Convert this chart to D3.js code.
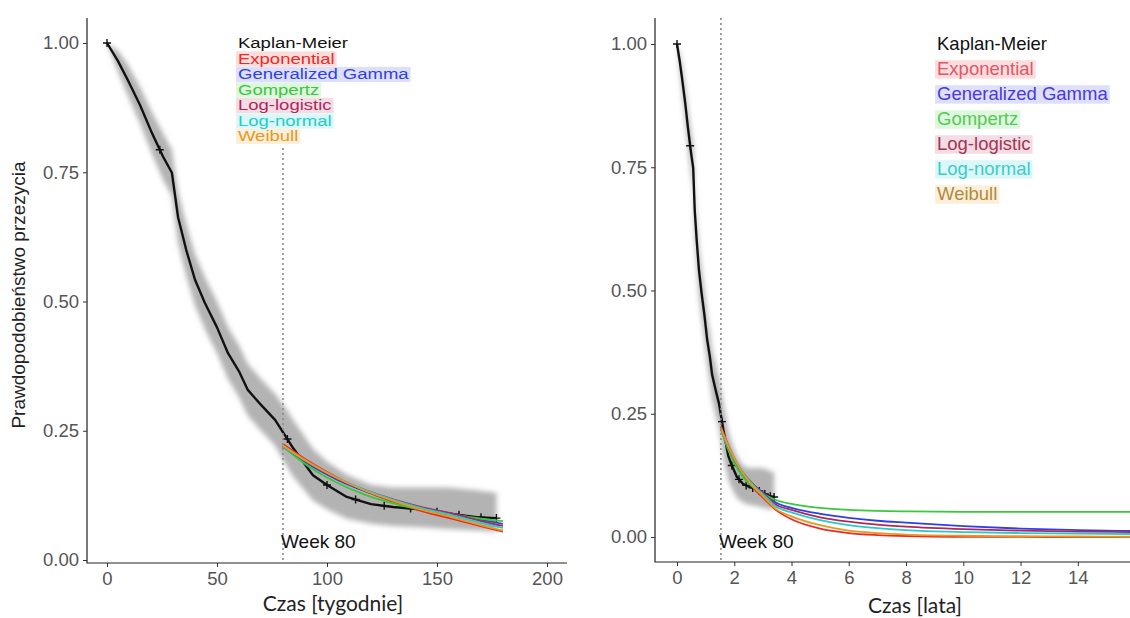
<!DOCTYPE html>
<html>
<head>
<meta charset="utf-8">
<script src="https://cdn.jsdelivr.net/npm/d3@7"></script>
<style>
  html, body { margin: 0; padding: 0; background: #fff; }
  svg { display: block; }
  .tick text { font-family: "Liberation Sans", Arial, sans-serif; }
</style>
</head>
<body>
<svg id="chart" width="1130" height="618"></svg>
<script>
// Kaplan-Meier estimate (time in weeks) with its confidence band
const kmWeeks = [0, 5, 9.5, 15, 20, 25.5, 29.5, 32.3, 36, 40, 44.5, 50, 55, 60, 64, 70, 76.4, 82.3, 84.5, 93.6, 100, 109, 120, 130, 145, 155, 168, 177];
const kmSurv  = [1.0, 0.965, 0.928, 0.88, 0.83, 0.78, 0.749, 0.663, 0.60, 0.542, 0.497, 0.45, 0.40, 0.365, 0.329, 0.30, 0.271, 0.232, 0.217, 0.164, 0.145, 0.122, 0.108, 0.1025, 0.097, 0.09, 0.083, 0.081];
const kmUpper = [1.0, 0.985, 0.958, 0.915, 0.87, 0.825, 0.794, 0.713, 0.65, 0.592, 0.547, 0.50, 0.45, 0.415, 0.379, 0.35, 0.321, 0.287, 0.272, 0.215, 0.19, 0.165, 0.145, 0.14, 0.14, 0.14, 0.135, 0.13];
const kmLower = [1.0, 0.945, 0.898, 0.845, 0.79, 0.735, 0.704, 0.613, 0.55, 0.492, 0.447, 0.40, 0.35, 0.315, 0.279, 0.25, 0.221, 0.177, 0.162, 0.115, 0.098, 0.08, 0.07, 0.066, 0.063, 0.06, 0.057, 0.055];
const censorWeeks = [0, 24, 82, 100, 113, 126, 138, 150, 160, 170, 177];

// Parametric fits, extrapolated from week 80 (time in years)
const fitYears       = [1.53, 1.75, 2.0, 2.25, 2.5, 2.75, 3.0, 3.45, 4, 5, 6, 7, 8, 10, 12, 14, 16];
const fitExponential = [0.225, 0.192, 0.160, 0.133, 0.112, 0.094, 0.080, 0.055, 0.036, 0.017, 0.008, 0.004, 0.002, 0.0005, 0.0001, 0, 0];
const fitGenGamma    = [0.22, 0.186, 0.156, 0.133, 0.115, 0.101, 0.090, 0.070, 0.059, 0.047, 0.039, 0.033, 0.029, 0.022, 0.017, 0.014, 0.012];
const fitGompertz    = [0.22, 0.182, 0.150, 0.126, 0.109, 0.097, 0.088, 0.075, 0.067, 0.059, 0.055, 0.053, 0.052, 0.051, 0.051, 0.051, 0.051];
const fitLogLogistic = [0.22, 0.188, 0.158, 0.135, 0.117, 0.102, 0.090, 0.066, 0.055, 0.040, 0.031, 0.025, 0.021, 0.016, 0.013, 0.011, 0.010];
const fitLogNormal   = [0.22, 0.189, 0.159, 0.135, 0.116, 0.100, 0.087, 0.062, 0.050, 0.034, 0.024, 0.018, 0.014, 0.010, 0.008, 0.007, 0.006];
const fitWeibull     = [0.222, 0.19, 0.159, 0.134, 0.114, 0.097, 0.083, 0.057, 0.042, 0.024, 0.013, 0.008, 0.005, 0.0025, 0.0015, 0.001, 0.0005];

const modelNames = ["Exponential", "Generalized Gamma", "Gompertz", "Log-logistic", "Log-normal", "Weibull"];
const modelFits  = [fitExponential, fitGenGamma, fitGompertz, fitLogLogistic, fitLogNormal, fitWeibull];
const lineColors = ["#ee2a24", "#2f3fe6", "#38c83a", "#b2275a", "#22cccc", "#e49a22"];
const textColorsRight = ["#e0566a", "#4a38e0", "#55c955", "#a13553", "#3ccccc", "#b28a3a"];

const xTicksWeeks = [0, 50, 100, 150, 200];
const xTicksYears = [0, 2, 4, 6, 8, 10, 12, 14];
const yTicks = [0, 0.25, 0.5, 0.75, 1];
const markerWeek = 80;
const weeksPerYear = 52.18;

const svg = d3.select("#chart");
const defs = svg.append("defs");
defs.append("filter").attr("id", "soft")
  .attr("x", "-10%").attr("y", "-10%").attr("width", "120%").attr("height", "120%")
  .append("feGaussianBlur").attr("stdDeviation", 2.5);

const kmRows = kmWeeks.map((t, i) => ({ t, s: kmSurv[i], lo: kmLower[i], hi: kmUpper[i] }));
const fmtY = d3.format(".2f");
const kmAt = d3.scaleLinear().domain(kmWeeks).range(kmSurv).clamp(true);

function drawPanel(cfg) {
  const g = svg.append("g");
  const x = cfg.x, y = cfg.y;
  const tConv = cfg.fromWeeks;

  // confidence band
  g.append("path")
    .datum(kmRows)
    .attr("fill", "#808080")
    .attr("fill-opacity", 0.6)
    .attr("filter", "url(#soft)")
    .attr("d", d3.area().x(d => x(tConv(d.t))).y0(d => y(d.lo)).y1(d => y(d.hi)));

  // Kaplan-Meier curve
  g.append("path")
    .datum(kmRows)
    .attr("fill", "none")
    .attr("stroke", "#111")
    .attr("stroke-width", 2.4)
    .attr("stroke-linejoin", "round")
    .attr("d", d3.line().x(d => x(tConv(d.t))).y(d => y(d.s)));

  // censoring marks
  g.selectAll("path.cens")
    .data(censorWeeks)
    .join("path")
    .attr("class", "cens")
    .attr("stroke", "#111")
    .attr("stroke-width", 1.4)
    .attr("d", t => {
      const cx = x(tConv(t)), cy = y(kmAt(t));
      return `M${cx - 4},${cy}H${cx + 4}M${cx},${cy - 4}V${cy + 4}`;
    });

  // parametric fits
  const clipId = cfg.id + "-clip";
  defs.append("clipPath").attr("id", clipId)
    .append("rect").attr("x", cfg.left).attr("y", cfg.top)
    .attr("width", cfg.tMaxPx - cfg.left).attr("height", cfg.bottom - cfg.top);
  const fitG = g.append("g").attr("clip-path", `url(#${clipId})`);
  modelFits.forEach((vals, k) => {
    const pts = fitYears.map((yr, i) => ({ t: cfg.fromYears(yr), s: vals[i] }));
    fitG.append("path")
      .datum(pts)
      .attr("fill", "none")
      .attr("stroke", lineColors[k])
      .attr("stroke-width", 1.8)
      .attr("d", d3.line().curve(d3.curveMonotoneX).x(d => x(d.t)).y(d => y(d.s)));
  });

  // legend backing and dotted marker line
  if (cfg.legendBox) {
    g.append("rect").attr("x", cfg.legendBox[0]).attr("y", cfg.legendBox[1])
      .attr("width", cfg.legendBox[2]).attr("height", cfg.legendBox[3]).attr("fill", "#fff");
  }
  const mx = x(tConv(markerWeek));
  g.append("line")
    .attr("x1", mx).attr("x2", mx)
    .attr("y1", cfg.legendBox ? cfg.legendBox[1] + cfg.legendBox[3] : cfg.top)
    .attr("y2", cfg.bottom - 2)
    .attr("stroke", "#8a8a8a").attr("stroke-width", 1.6)
    .attr("stroke-dasharray", "2,3");
  g.append("text")
    .attr("x", mx - 2).attr("y", 548)
    .attr("font-family", "Liberation Sans, Arial, sans-serif")
    .attr("font-size", 19).attr("fill", "#111")
    .text("Week " + markerWeek);

  // axes
  const yAxis = d3.axisLeft(y).tickValues(yTicks).tickFormat(fmtY).tickSize(4).tickPadding(4);
  const ya = g.append("g").attr("transform", `translate(${cfg.left},0)`).call(yAxis);
  ya.select(".domain").remove();
  const xAxis = d3.axisBottom(x).tickValues(cfg.xTicks).tickSize(4).tickPadding(5);
  const xa = g.append("g").attr("transform", `translate(0,${cfg.bottom})`).call(xAxis);
  xa.select(".domain").remove();
  [ya, xa].forEach(a => {
    a.selectAll(".tick line").attr("stroke", "#333");
    a.selectAll(".tick text").attr("font-size", 18.5).attr("fill", "#555");
  });
  g.append("path")
    .attr("d", `M${cfg.left},${cfg.top}V${cfg.bottom}H${cfg.right}`)
    .attr("fill", "none").attr("stroke", "#222").attr("stroke-width", 1.2);

  // x title
  g.append("text")
    .attr("x", cfg.xTitlePos[0]).attr("y", cfg.xTitlePos[1])
    .attr("text-anchor", "middle")
    .attr("font-family", "Lato, 'Open Sans', sans-serif")
    .attr("font-size", 21).attr("fill", "#222")
    .text(cfg.xTitle);

  // legend
  const lg = g.append("g");
  const names = ["Kaplan-Meier"].concat(modelNames);
  const cols = ["#111"].concat(cfg.textColors);
  names.forEach((n, i) => {
    const by = cfg.legendY0 + i * cfg.legendStep;
    const item = lg.append("g").attr("transform", `translate(${cfg.legendX},${by}) scale(1,${cfg.legendSquash})`);
    const txt = item.append("text")
      .attr("x", 0).attr("y", 0)
      .attr("font-family", "Liberation Sans, Arial, sans-serif")
      .attr("font-size", cfg.legendFont)
      .attr("fill", cols[i])
      .text(n);
    if (i > 0) {
      const w = txt.node().getComputedTextLength();
      item.insert("rect", "text")
        .attr("x", -2).attr("y", -cfg.legendFont * 0.8)
        .attr("width", w + 4).attr("height", cfg.legendFont * 1.0)
        .attr("fill", lineColors[i - 1]).attr("fill-opacity", 0.16);
    }
  });
}

// left panel: weeks
drawPanel({
  id: "weeks",
  x: d3.scaleLinear().domain([0, 200]).range([107, 547]),
  y: d3.scaleLinear().domain([0, 1]).range([560, 43]),
  fromWeeks: t => t,
  fromYears: yr => yr * weeksPerYear,
  left: 87, right: 567, top: 18, bottom: 563, tMaxPx: 503,
  xTicks: xTicksWeeks,
  xTitle: "Czas [tygodnie]", xTitlePos: [333, 611],
  legendX: 238, legendY0: 48, legendStep: 15.5, legendFont: 18.5, legendSquash: 0.82,
  legendBox: [228, 26, 196, 122],
  textColors: lineColors
});

// right panel: years
drawPanel({
  id: "years",
  x: d3.scaleLinear().domain([0, 14]).range([677, 1077.8]),
  y: d3.scaleLinear().domain([0, 1]).range([537, 44]),
  fromWeeks: t => t / weeksPerYear,
  fromYears: yr => yr,
  left: 655, right: 1130, top: 18, bottom: 562, tMaxPx: 1130,
  xTicks: xTicksYears,
  xTitle: "Czas [lata]", xTitlePos: [915, 613],
  legendX: 937, legendY0: 50, legendStep: 25, legendFont: 18.5, legendSquash: 1,
  legendBox: null,
  textColors: textColorsRight
});

// shared y title
svg.append("text")
  .attr("transform", "translate(25,295) rotate(-90)")
  .attr("text-anchor", "middle")
  .attr("font-family", "Liberation Sans, Arial, sans-serif")
  .attr("font-size", 19).attr("fill", "#222")
  .text("Prawdopodobieństwo przezycia");
</script>
</body>
</html>
